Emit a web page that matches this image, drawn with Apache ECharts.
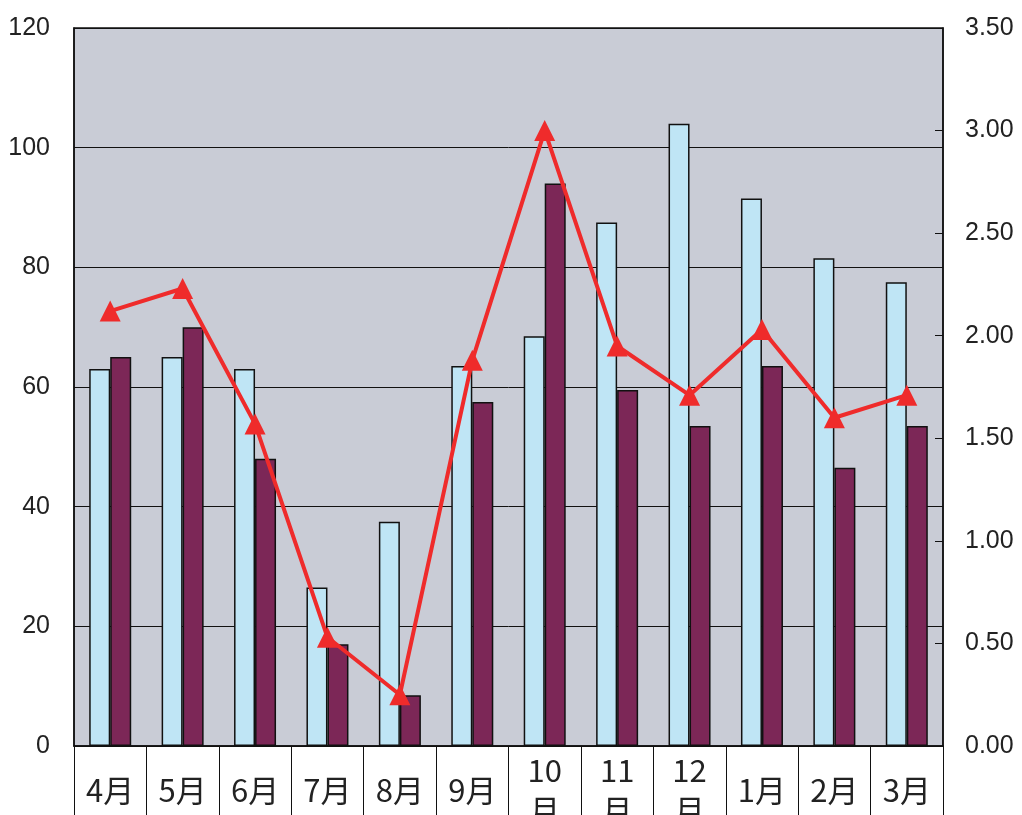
<!DOCTYPE html>
<html><head><meta charset="utf-8">
<script src="https://cdn.jsdelivr.net/npm/echarts@6/dist/echarts.min.js"></script>
<style>html,body{margin:0;padding:0;background:#fff;}#c{width:1022px;height:815px;}</style>
</head><body><div id="c"></div>
<script>
var categories = ['4月','5月','6月','7月','8月','9月','10\n月','11\n月','12\n月','1月','2月','3月'];
var seriesBlue = [63, 65, 63, 26.5, 37.5, 63.5, 68.5, 87.5, 104, 91.5, 81.5, 77.5];
var seriesPurple = [65, 70, 48, 17, 8.5, 57.5, 94, 59.5, 53.5, 63.5, 46.5, 53.5];
var seriesLine = [2.12, 2.23, 1.57, 0.53, 0.25, 1.88, 3.0, 1.95, 1.71, 2.03, 1.6, 1.71];
var leftTicks = [0, 120, 20];
var rightTicks = [0, 3.5, 0.5];

var chart = echarts.init(document.getElementById('c'));
var font = "'Liberation Sans Narrow','Liberation Sans',Arial,sans-serif";
chart.setOption({
  animation: false,
  backgroundColor: '#ffffff',
  grid: { left: 74, right: 79, top: 28, bottom: 69, outerBoundsMode: 'none', containLabel: false,
          show: true, backgroundColor: '#c9ccd6', borderColor: '#111', borderWidth: 1.5 },
  xAxis: {
    type: 'category', data: categories,
    axisLine: { show: true, lineStyle: { color: '#111', width: 1.5 } },
    axisTick: { show: true, interval: 0, length: 80, lineStyle: { color: '#111', width: 1 } },
    axisLabel: { interval: 0, margin: 44, fontSize: 31, color: '#222', lineHeight: 40, verticalAlign: 'middle',
                 fontFamily: "'Noto Sans CJK JP', sans-serif" }
  },
  yAxis: [
    { type: 'value', min: leftTicks[0], max: leftTicks[1], interval: leftTicks[2],
      axisLine: { show: true, lineStyle: { color: '#111', width: 1.5 } },
      axisTick: { show: false },
      axisLabel: { fontSize: 25, color: '#222', margin: 24, fontFamily: font },
      splitLine: { show: true, lineStyle: { color: '#111', width: 1 } } },
    { type: 'value', min: rightTicks[0], max: rightTicks[1], interval: rightTicks[2], position: 'right',
      axisLine: { show: true, lineStyle: { color: '#111', width: 1.5 } },
      axisTick: { show: true, inside: true, length: 8, lineStyle: { color: '#111' } },
      axisLabel: { fontSize: 25, color: '#222', margin: 22, fontFamily: font, formatter: function (v) { return v.toFixed(2); } },
      splitLine: { show: false } }
  ],
  series: [
    { type: 'bar', data: seriesBlue, barWidth: 21, barGap: '0%',
      itemStyle: { color: '#bfe5f5', borderColor: '#111', borderWidth: 1.5 } },
    { type: 'bar', data: seriesPurple, barWidth: 21,
      itemStyle: { color: '#7c2757', borderColor: '#111', borderWidth: 1.5 } },
    { type: 'line', yAxisIndex: 1, data: seriesLine, symbol: 'triangle', symbolSize: 21,
      lineStyle: { color: '#ef2b2b', width: 4 }, itemStyle: { color: '#ef2b2b' }, z: 10 }
  ]
});
</script></body></html>
